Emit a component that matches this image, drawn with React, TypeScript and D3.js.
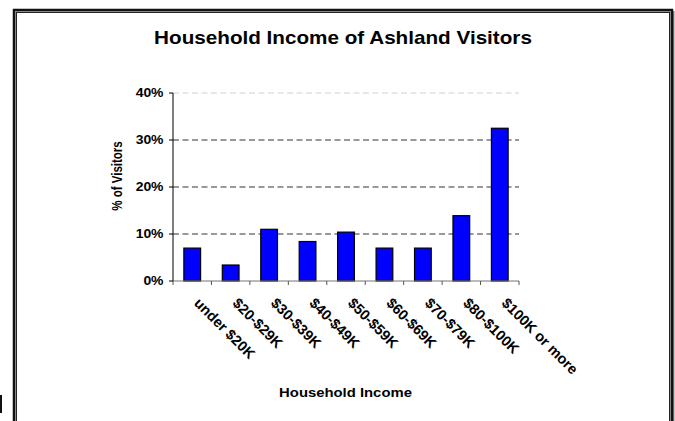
import React from "react";
import * as d3 from "d3";

const categories = [
  "under $20K",
  "$20-$29K",
  "$30-$39K",
  "$40-$49K",
  "$50-$59K",
  "$60-$69K",
  "$70-$79K",
  "$80-$100K",
  "$100K or more",
];
const visitorShare = [0.07, 0.034, 0.11, 0.084, 0.104, 0.07, 0.07, 0.139, 0.325];
const yTicks = [0, 0.1, 0.2, 0.3, 0.4];
const titleText = "Household Income of Ashland Visitors";
const yAxisTitle = "% of Visitors";
const xAxisTitle = "Household Income";

const W = 675;
const H = 421;
const FONT = "'Liberation Sans', Arial, sans-serif";

export default function App() {
  const left = 173;
  const right = 519;
  const top = 93;
  const bottom = 281;

  const x = d3.scaleBand<string>().domain(categories).range([left, right]).paddingInner(0.565).paddingOuter(0.2825);
  const xEdges = d3.scaleBand<string>().domain(categories).range([left, right]).padding(0);
  const y = d3.scaleLinear().domain([0, 0.4]).range([bottom, top]);
  const fmt = d3.format(".0%");

  const tickEdges = [...categories.map((c) => xEdges(c) as number), right];

  return (
    <svg
      width={W}
      height={H}
      style={{ position: "absolute", left: 0, top: 0, background: "#fff" }}
      fontFamily={FONT}
    >
      <defs>
        <linearGradient id="shade" x1="0" x2="1" y1="0" y2="0">
          <stop offset="0" stopColor="#555" />
          <stop offset="1" stopColor="#eee" />
        </linearGradient>
      </defs>
      <rect x={0} y={0} width={W} height={H} fill="#fff" />
      {/* frame */}
      <rect x={673} y={11} width={2} height={H} fill="url(#shade)" />
      <rect x={14} y={10} width={658} height={H} fill="none" stroke="#111" strokeWidth={2.5} />
      <rect x={15.5} y={11.5} width={655} height={H} fill="none" stroke="#888" strokeWidth={1} />
      <rect x={16.5} y={12.5} width={653} height={H} fill="none" stroke="#222" strokeWidth={1} />
      <rect x={0} y={395} width={2} height={18} fill="#111" />

      {/* title */}
      <text
        transform={`translate(343,44.3) scale(1.13,1)`}
        textAnchor="middle"
        fontSize={18.3}
        fontWeight="bold"
        fill="#000"
      >
        {titleText}
      </text>

      {/* gridlines */}
      {yTicks.filter((t) => t > 0).map((t) => (
        <line
          key={"g" + t}
          x1={left}
          x2={right}
          y1={y(t)}
          y2={y(t)}
          stroke={t === 0.4 ? "#d0d0d0" : "#333"}
          strokeWidth={1}
          strokeDasharray="6,3.5"
        />
      ))}

      {/* bars */}
      {categories.map((c, i) => (
        <rect
          key={c}
          x={x(c)}
          y={y(visitorShare[i])}
          width={x.bandwidth()}
          height={bottom - y(visitorShare[i])}
          fill="#0000ff"
          stroke="#000"
          strokeWidth={1.2}
        />
      ))}

      {/* x axis */}
      <line x1={left} x2={right} y1={bottom} y2={bottom} stroke="#777" strokeWidth={1.2} />
      {tickEdges.map((e, i) => (
        <line key={"xt" + i} x1={e} x2={e} y1={bottom} y2={bottom + 4} stroke="#555" strokeWidth={1} />
      ))}

      {/* y axis */}
      <line x1={left} x2={left} y1={top} y2={bottom} stroke="#000" strokeWidth={1} />
      {yTicks.map((t) => (
        <g key={"yt" + t}>
          <line x1={left - 4} x2={left} y1={y(t)} y2={y(t)} stroke="#000" strokeWidth={1} />
          <text
            transform={`translate(163.5,${y(t) + 4.3}) scale(1.16,1)`}
            textAnchor="end"
            fontSize={12}
            fontWeight="bold"
          >
            {fmt(t)}
          </text>
        </g>
      ))}

      {/* x labels */}
      {categories.map((c) => (
        <text
          key={"xl" + c}
          transform={`translate(${(x(c) as number) + x.bandwidth() / 2 + 1},304) rotate(45)`}
          fontSize={14.5}
          fontWeight="bold"
        >
          {c}
        </text>
      ))}

      {/* axis titles */}
      <text
        transform={`translate(121.5,176) scale(1.25,1) rotate(-90)`}
        textAnchor="middle"
        fontSize={11.5}
        fontWeight="bold"
      >
        {yAxisTitle}
      </text>
      <text
        transform={`translate(345.5,397.3) scale(1.1,1)`}
        textAnchor="middle"
        fontSize={13.5}
        fontWeight="bold"
      >
        {xAxisTitle}
      </text>
    </svg>
  );
}
